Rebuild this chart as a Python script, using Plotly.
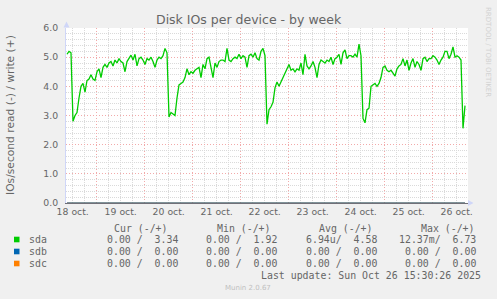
import pandas as pd
import plotly.graph_objects as go

# ---------------- data ----------------
title = "Disk IOs per device - by week"
y_title = "IOs/second read (-) / write (+)"
start_time = "2025-10-18 09:09"      # first sample (30-min rrd, sampled hourly here)
x_range = ["2025-10-18 08:39", "2025-10-26 17:39"]

sda_write = [
    5.1, 5.2, 5.15, 2.8, 3.0, 3.1, 3.6, 4.0, 4.1, 3.8,
    4.2, 4.25, 4.4, 4.25, 4.2, 4.5, 4.6, 4.3, 4.65, 4.75,
    4.65, 4.8, 4.85, 4.7, 4.9, 4.8, 4.95, 4.85, 4.8, 4.5,
    4.85, 4.95, 5.07, 4.9, 5.1, 4.7, 4.95, 5.0, 4.9, 4.75,
    4.95, 4.9, 5.0, 4.85, 4.65, 4.9, 5.0, 4.95, 5.05, 5.3,
    5.15,
    2.95, 3.1, 3.05, 3.0, 3.6, 4.05, 4.1, 4.15, 4.3, 4.6,
    4.4, 4.5, 4.45, 4.55, 4.6, 4.65, 4.3, 4.75, 4.6, 4.95,
    5.0, 4.65, 4.3, 4.8, 4.65, 4.85, 4.9, 4.9, 4.85, 5.3,
    4.9, 4.85, 4.95, 5.0, 4.95, 5.1, 4.95, 5.05, 5.0, 4.65,
    5.05, 5.1, 5.0, 5.15, 4.95, 4.9, 5.2, 5.3, 5.05,
    2.7, 3.2, 3.3, 3.45, 3.95, 4.15, 4.0, 4.15, 4.3, 4.4,
    4.55, 4.75, 4.55, 4.6, 4.5, 4.6, 4.55, 4.8, 4.4, 5.1,
    4.7, 4.6, 4.7, 4.85, 4.65, 4.3, 4.75, 4.9, 4.85, 4.8,
    4.9, 4.85, 5.0, 4.75, 4.95, 5.0, 5.1, 4.75, 5.15, 5.25,
    4.95, 5.05, 5.05, 5.0, 5.1, 5.0, 5.45, 5.05, 2.9,
    2.75, 3.2, 3.25, 4.0, 4.05, 4.1, 4.0, 4.1, 4.3, 4.65,
    4.7, 4.55, 4.5, 4.55, 4.45, 4.35, 4.6, 4.7, 4.75, 4.95,
    4.7, 4.9, 4.55, 4.8, 4.95, 4.65, 4.85, 4.75, 4.55, 4.95,
    5.0, 4.85, 4.95, 4.95, 5.05, 5.0, 4.9, 4.75, 4.9, 5.0,
    5.2, 5.2, 4.95, 5.1, 5.35, 5.0, 5.05, 5.0, 4.9, 2.56,
    3.34,
]
sdb_write = [0.0] * len(sda_write)
sdc_write = [0.0] * len(sda_write)

devices = ["sda", "sdb", "sdc"]
dev_colors = ["#00CC00", "#0066B3", "#FF8000"]
series = [sda_write, sdb_write, sdc_write]
cur_rw = [(0.0, 3.34), (0.0, 0.0), (0.0, 0.0)]
min_rw = [(0.0, 1.92), (0.0, 0.0), (0.0, 0.0)]
avg_rw = [(6.94e-6, 4.58), (0.0, 0.0), (0.0, 0.0)]
max_rw = [(12.37e-3, 6.73), (0.0, 0.0), (0.0, 0.0)]
col_headers = ["Cur (-/+)", "Min (-/+)", "Avg (-/+)", "Max (-/+)"]
last_update = "Last update: Sun Oct 26 15:30:26 2025"
version = "Munin 2.0.67"
watermark = "RRDTOOL / TOBI OETIKER"

times = pd.date_range(start=start_time, periods=len(sda_write), freq="h")

# ---------------- layout helpers ----------------
W, H = 497, 299
L, R, T, B = 66, 468, 28, 203
FONT = "DejaVu Sans"
MONO = "DejaVu Sans Mono"
FONTC = "#666666"


def px(x):
    return (x - L) / (R - L)


def py(y):
    return (B - y) / (B - T)


def si(v):
    if v == 0:
        return "%6.2f " % v
    if v < 1e-3:
        return "%6.2fu" % (v * 1e6)
    if v < 1:
        return "%6.2fm" % (v * 1e3)
    return "%6.2f " % v


def cell(rw):
    return (si(rw[0]) + "/" + si(rw[1])).strip().replace(" ", "\u00a0")


def text_at(x, y, text, size, family=FONT, color=FONTC, xanchor="center", angle=0):
    return dict(x=px(x), y=py(y), xref="paper", yref="paper", text=text,
                showarrow=False, xanchor=xanchor, yanchor="middle", textangle=angle,
                font=dict(family=family, size=size, color=color))


fig = go.Figure()
for name, col, vals in zip(devices[::-1], dev_colors[::-1], series[::-1]):
    fig.add_trace(go.Scatter(x=times, y=vals, mode="lines", name=name,
                             line=dict(color=col, width=1.3 if name == "sda" else 1),
                             showlegend=False, hoverinfo="skip"))

ann = []
ann.append(text_at(249, 20, title, 12.5))
ann.append(text_at(10, 115, y_title, 10.7, angle=-90))
ann.append(text_at(488, 52, watermark, 7, color="#D2D2D2", angle=90))

hdr_right = [169.5, 272.5, 375, 476.5]
val_right = [180, 279, 378.5, 477.5]
for hx, h in zip(hdr_right, col_headers):
    ann.append(text_at(hx, 228, h.replace(" ", "\u00a0"), 9.9, family=MONO, xanchor="right"))

shapes = []
row_y = [239.5, 251.5, 263.5]
for i, dev in enumerate(devices):
    yy = row_y[i]
    shapes.append(dict(type="rect", xref="paper", yref="paper",
                       x0=px(14), x1=px(19.5), y0=py(yy - 2.8), y1=py(yy + 2.8),
                       fillcolor=dev_colors[i], line=dict(width=0)))
    ann.append(text_at(26.5, yy, dev, 9.9, family=MONO, xanchor="left"))
    for vx, stat in zip(val_right, [cur_rw, min_rw, avg_rw, max_rw]):
        ann.append(text_at(vx, yy, cell(stat[i]), 9.9, family=MONO, xanchor="right"))

ann.append(text_at(482.5, 275.7, last_update.replace(" ", "\u00a0"), 9.9,
                   family=MONO, xanchor="right"))
ann.append(text_at(248, 288, version, 7, color="#C0C0C0"))

ARROW = "#CFD6F8"
shapes.append(dict(type="path", xref="paper", yref="paper",
                   path="M %f %f L %f %f L %f %f Z" % (px(66.5), py(21.5), px(63.5), py(27.5), px(69.5), py(27.5)),
                   fillcolor=ARROW, line=dict(width=0)))
shapes.append(dict(type="path", xref="paper", yref="paper",
                   path="M %f %f L %f %f L %f %f Z" % (px(473.5), py(203), px(468), py(200), px(468), py(206)),
                   fillcolor=ARROW, line=dict(width=0)))

MAJOR = "#F2AAAA"
MINOR = "#DADADA"
fig.update_layout(
    width=W, height=H, autosize=False,
    margin=dict(l=L, r=W - R, t=T, b=H - B, pad=0),
    paper_bgcolor="#F0F0F0", plot_bgcolor="#FFFFFF",
    showlegend=False, annotations=ann, shapes=shapes,
    xaxis=dict(type="date", range=x_range, showgrid=True,
               gridcolor=MAJOR, griddash="1px,2px", gridwidth=1,
               tick0="2025-10-18", dtick=86400000, ticklabelmode="period",
               tickformat="%d oct.", ticks="", zeroline=False,
               showline=True, linecolor="#707078", linewidth=1,
               tickfont=dict(family=FONT, size=9.3, color=FONTC),
               minor=dict(dtick=6 * 3600000, showgrid=True, gridcolor=MINOR,
                          griddash="1px,1px", gridwidth=1)),
    yaxis=dict(range=[0, 6], dtick=1, tick0=0, tickformat=".1f", showgrid=True,
               gridcolor=MAJOR, griddash="1px,2px", gridwidth=1,
               zeroline=False, ticks="", ticklabelstandoff=5,
               showline=True, linecolor=ARROW, linewidth=1,
               tickfont=dict(family=FONT, size=9.3, color=FONTC),
               minor=dict(dtick=0.2, showgrid=True, gridcolor=MINOR,
                          griddash="1px,1px", gridwidth=1)),
)

fig.write_html("out.html")
